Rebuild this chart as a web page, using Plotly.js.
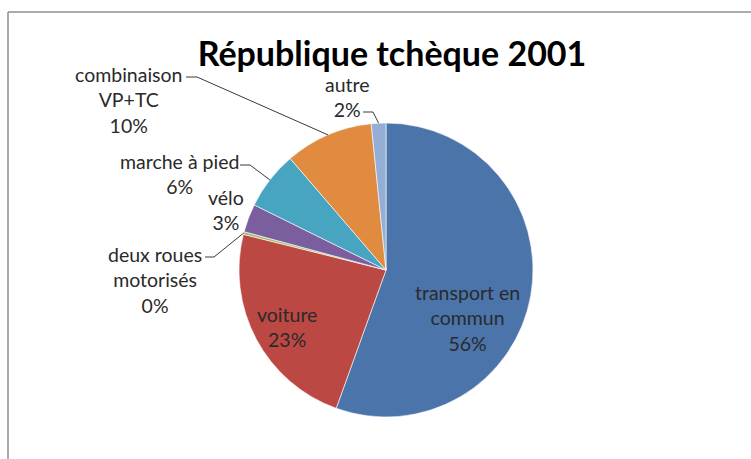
<!DOCTYPE html>
<html>
<head>
<meta charset="utf-8">
<script src="https://cdn.plot.ly/plotly-3.0.1.min.js"></script>
<style>html,body{margin:0;padding:0;background:#fff;}#chart{width:751px;height:459px;}</style>
</head>
<body>
<div id="chart"></div>
<script>
// ---- data ----
const categories = ['transport en commun', 'voiture', 'deux roues motorisés', 'vélo', 'marche à pied', 'combinaison VP+TC', 'autre'];
const wrappedLabels = ['transport en<br>commun', 'voiture', 'deux roues<br>motorisés', 'vélo', 'marche à pied', 'combinaison<br>VP+TC', 'autre'];
const values = [55.5, 23.4, 0.3, 3.1, 6.4, 9.7, 1.6];
const colors = ['#4a74aa', '#bb4842', '#a4bb6a', '#7b5e9e', '#48a5c2', '#e08b3f', '#95aed5'];
const chartTitle = 'République tchèque 2001';

// ---- layout / style (pixels) ----
const W = 751, H = 459;
const pieCx = 386, pieCy = 270, pieR = 147;
// label centre (px) and optional leader start/elbow (px)
const labelStyle = [
  {x: 467, y: 318, leader: null},
  {x: 287, y: 327, leader: null},
  {x: 155, y: 280, leader: [[205, 257], [214, 257]]},
  {x: 226, y: 210, leader: null},
  {x: 179, y: 174, leader: [[240, 165], [250, 165]]},
  {x: 128, y: 100, leader: [[186, 77], [197, 77]]},
  {x: 347, y: 97, leader: [[363, 112], [373, 112]]}
];

const px = v => v / W;
const py = v => 1 - v / H;

const total = values.reduce((a, b) => a + b, 0);
const pct = values.map(v => Math.round(v / total * 100) + '%');

// anchor points on the pie edge at each slice's mid angle (clockwise from 12 o'clock)
let cum = 0;
const anchors = values.map(v => {
  const mid = (cum + v / 2) / total * 2 * Math.PI;
  cum += v;
  return [pieCx + pieR * Math.sin(mid), pieCy - pieR * Math.cos(mid)];
});

const annotations = [];
const shapes = [];
categories.forEach((c, i) => {
  const s = labelStyle[i];
  annotations.push({
    xref: 'paper', yref: 'paper', x: px(s.x), y: py(s.y),
    xanchor: 'center', yanchor: 'middle', align: 'center', showarrow: false,
    text: wrappedLabels[i] + '<br>' + pct[i],
    font: {family: 'Lato, "Open Sans", sans-serif', size: 19.5, color: '#2a2a2a'}
  });
  if (s.leader) {
    const p0 = s.leader[0], p1 = s.leader[1], a = anchors[i];
    shapes.push({
      type: 'path', xref: 'paper', yref: 'paper',
      path: `M ${px(p0[0])} ${py(p0[1])} L ${px(p1[0])} ${py(p1[1])} L ${px(a[0])} ${py(a[1])}`,
      line: {color: '#3a3a3a', width: 1}
    });
  }
});

// chart frame (left and top edges visible)
shapes.push({type: 'line', xref: 'paper', yref: 'paper', x0: px(8), y0: py(12), x1: px(760), y1: py(12), line: {color: '#8f8f8f', width: 1.5}});
shapes.push({type: 'line', xref: 'paper', yref: 'paper', x0: px(8), y0: py(12), x1: px(8), y1: py(470), line: {color: '#8f8f8f', width: 1.5}});

const trace = {
  type: 'pie',
  labels: categories,
  values: values,
  sort: false,
  direction: 'clockwise',
  rotation: 0,
  textinfo: 'none',
  hoverinfo: 'label+percent',
  marker: {colors: colors, line: {color: '#ffffff', width: 0.6}},
  domain: {x: [px(pieCx - pieR), px(pieCx + pieR)], y: [py(pieCy + pieR), py(pieCy - pieR)]},
  showlegend: false
};

const layout = {
  width: W, height: H,
  margin: {l: 0, r: 0, t: 0, b: 0},
  paper_bgcolor: '#ffffff',
  showlegend: false,
  title: {
    text: chartTitle,
    x: px(392), y: py(54), xref: 'paper', yref: 'paper',
    xanchor: 'center', yanchor: 'middle',
    font: {family: 'Lato, "Open Sans", sans-serif', size: 34, weight: 'bold', color: '#000000'}
  },
  annotations: annotations,
  shapes: shapes
};

Plotly.newPlot('chart', [trace], layout, {displayModeBar: false, staticPlot: true});
</script>
</body>
</html>
